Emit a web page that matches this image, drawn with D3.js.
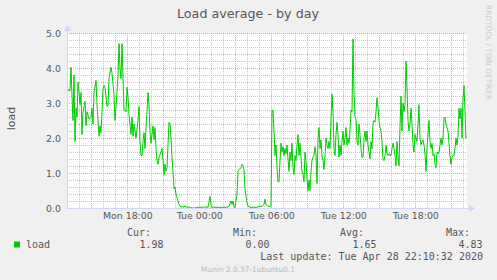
<!DOCTYPE html>
<html>
<head>
<meta charset="utf-8">
<script src="https://cdn.jsdelivr.net/npm/d3@7/dist/d3.min.js"></script>
<style>
  html, body { margin: 0; padding: 0; background: #f0f0f0; }
  svg { display: block; }
  .tick text { font-family: "DejaVu Sans", sans-serif; fill: #555; }
  .mono { font-family: "DejaVu Sans Mono", monospace; font-size: 10px; fill: #555; }
</style>
</head>
<body>
<div id="chart"></div>
<script>
// 5 minute slots since the left edge of the graph, and the load
var samples = [
  [0,3.35],[1,3.4],[2,3.35],[3,3.35],[4,4.02],[5,3.2],[6,2.5],[7,3.8],[8,1.9],[9,2.85],
  [10,2.6],[11,3.6],[12,3.3],[13,2.95],[14,3.3],[15,2.1],[16,2.75],[18,3.05],[19,2.35],[20,2.75],
  [22,2.55],[23,2.55],[24,2.6],[25,2.85],[26,2.4],[27,3.35],[28,3.45],[29,3.65],[30,2.95],[32,2.05],
  [33,2.35],[34,2.15],[35,2.75],[36,3.4],[37,3.5],[38,3.45],[40,2.9],[41,2.95],[42,3.7],[44,4.02],
  [45,3.85],[46,3.55],[47,3.25],[48,2.5],[50,3.3],[51,3.8],[52,4.7],[53,4.0],[54,3.7],[55,4.7],
  [56,3.7],[57,2.8],[59,2.75],[60,3.45],[61,3.2],[62,2.65],[63,2.4],[64,2.1],[65,2.6],[66,2.05],
  [67,2.4],[68,2.2],[69,2.0],[71,2.5],[72,2.9],[73,1.9],[74,1.5],[75,1.5],[76,1.9],[77,2.15],
  [78,1.7],[79,2.3],[80,2.75],[81,3.3],[82,2.95],[83,2.2],[84,1.85],[85,2.1],[86,2.35],[87,1.95],
  [88,2.3],[89,1.7],[90,1.35],[91,1.25],[92,1.45],[94,1.6],[95,1.7],[96,1.35],[97,0.95],[98,1.25],
  [99,1.05],[100,1.15],[101,1.8],[102,2.45],[103,2.4],[104,2.0],[105,1.45],[106,1.05],[107,0.55],[108,0.6],
  [109,0.4],[110,0.3],[111,0.2],[112,0.1],[114,0.02],[115,0.05],[116,0.02],[118,0.05],[120,0.02],[122,0.03],
  [125,0.0],[128,0.0],[131,0.02],[135,0.02],[138,0.03],[141,0.02],[143,0.33],[144,0.1],[145,0.02],[150,0.02],
  [155,0.02],[160,0.02],[162,0.05],[164,0.2],[165,0.1],[166,0.2],[167,0.02],[168,0.02],[170,0.4],[171,1.05],
  [172,1.1],[174,1.15],[175,1.25],[176,1.2],[177,1.1],[178,0.55],[180,0.15],[181,0.05],[183,0.02],[186,0.02],
  [190,0.02],[192,0.05],[195,0.05],[197,0.1],[198,0.25],[199,0.1],[201,0.05],[203,0.05],[204,0.05],[205,2.75],
  [206,2.8],[207,2.2],[208,1.5],[209,1.8],[210,1.15],[211,0.75],[212,0.75],[213,1.35],[214,1.85],[215,1.6],
  [216,1.75],[217,1.5],[218,1.7],[219,1.55],[220,1.8],[221,1.4],[222,1.05],[223,1.6],[224,1.35],[225,1.85],
  [226,1.15],[227,0.95],[228,1.5],[229,1.35],[230,1.8],[231,2.1],[232,1.5],[233,1.85],[234,1.45],[235,1.05],
  [236,0.95],[237,0.75],[238,1.6],[239,1.35],[240,0.85],[241,0.5],[242,0.8],[243,0.5],[244,1.05],[245,1.35],
  [246,1.45],[247,1.5],[248,1.75],[249,1.55],[250,0.7],[251,2.0],[252,2.3],[253,1.7],[254,1.95],[255,1.45],
  [256,1.35],[257,1.1],[258,1.5],[259,2.0],[260,1.8],[261,1.7],[262,1.9],[263,1.7],[264,2.55],[265,3.25],
  [266,2.75],[267,1.7],[268,1.5],[269,2.1],[270,2.45],[271,2.1],[272,1.45],[273,1.8],[274,1.5],[275,1.9],
  [276,2.2],[277,1.8],[278,2.0],[279,2.3],[280,1.8],[281,2.0],[282,1.85],[283,2.2],[284,2.8],[285,2.75],
  [286,4.83],[287,3.25],[288,2.6],[289,2.55],[290,1.9],[291,1.8],[292,2.4],[293,2.1],[294,1.7],[295,1.45],
  [296,1.45],[297,2.0],[298,2.2],[299,1.9],[300,2.2],[301,1.8],[302,1.6],[303,1.4],[304,1.9],[305,1.7],
  [306,2.4],[307,2.5],[308,2.45],[309,2.75],[310,3.15],[311,2.85],[312,2.5],[313,2.3],[314,2.2],[315,1.9],
  [316,1.4],[317,1.35],[318,1.5],[319,1.8],[320,1.55],[321,1.5],[322,1.55],[323,1.5],[324,1.5],[325,1.7],
  [326,1.85],[327,1.7],[328,1.5],[329,1.2],[330,1.9],[331,1.5],[332,1.2],[333,2.3],[334,3.2],[335,2.2],
  [336,3.0],[337,2.75],[338,2.95],[339,4.2],[340,3.45],[341,2.5],[342,2.2],[343,2.4],[344,2.85],[345,2.4],
  [346,1.8],[347,1.6],[348,2.1],[349,2.0],[350,1.9],[351,2.4],[352,2.95],[353,2.0],[354,1.8],[355,1.9],
  [356,1.95],[357,1.8],[358,1.55],[359,1.05],[360,1.7],[361,2.1],[362,2.5],[363,1.9],[364,1.7],[365,1.85],
  [366,1.5],[367,1.55],[368,1.25],[369,1.15],[370,1.6],[371,1.55],[372,1.6],[373,1.8],[374,2.0],[375,1.8],
  [376,2.0],[377,2.55],[378,2.6],[379,2.4],[380,2.3],[381,2.2],[382,1.85],[383,1.5],[384,1.25],[385,1.45],
  [386,1.5],[387,1.5],[388,1.7],[389,2.0],[390,1.8],[391,2.05],[392,2.85],[393,2.55],[394,2.85],[395,2.0],
  [396,3.15],[397,3.5],[398,2.75],[399,1.98]
];

var yTicks = [0, 1, 2, 3, 4, 5];
var legendHeads = ["Cur:", "Min:", "Avg:", "Max:"];
var legendValues = ["1.98", "0.00", "1.65", "4.83"];

var title = "Load average - by day";
var lastUpdate = "Last update: Tue Apr 28 22:10:32 2020";
var footer = "Munin 2.0.37-1ubuntu0.1";
var sideText = "RRDTOOL / TOBI OETIKER";

var W = 497, H = 280;
var pL = 67, pR = 467, pT = 33, pB = 208;

// the graph covers 400 slots of 5 minutes
var t0 = new Date(2020, 3, 27, 12, 58, 30);
var t1 = new Date(t0.getTime() + 400 * 300000);
var slotTime = function(s) { return new Date(t0.getTime() + s * 300000); };

var x = d3.scaleTime().domain([t0, t1]).range([pL, pR]);
var y = d3.scaleLinear().domain([0, 5]).range([pB, pT]);

var svg = d3.select("#chart").append("svg")
  .attr("width", W)
  .attr("height", H);

svg.append("rect").attr("width", W).attr("height", H).attr("fill", "#f0f0f0");
svg.append("rect")
  .attr("x", pL).attr("y", pT)
  .attr("width", pR - pL).attr("height", pB - pT)
  .attr("fill", "#fff");

// minor grid
var minorY = d3.range(0, 5.01, 0.2).filter(function(v) { return Math.abs(v - Math.round(v)) > 0.01; });
var gridG = svg.append("g").attr("shape-rendering", "crispEdges");

gridG.selectAll(".hminor").data(minorY).enter().append("line")
  .attr("x1", pL).attr("x2", pR)
  .attr("y1", function(d) { return Math.round(y(d)) + 0.5; })
  .attr("y2", function(d) { return Math.round(y(d)) + 0.5; })
  .attr("stroke", "#c8c8c8").attr("stroke-dasharray", "1,1");

var hours = d3.timeHour.range(t0, t1);
gridG.selectAll(".vminor").data(hours.filter(function(d) { return d.getHours() % 3 != 0; })).enter().append("line")
  .attr("x1", function(d) { return Math.round(x(d)) + 0.5; })
  .attr("x2", function(d) { return Math.round(x(d)) + 0.5; })
  .attr("y1", pT).attr("y2", pB)
  .attr("stroke", "#c8c8c8").attr("stroke-dasharray", "1,1");

// major grid
gridG.selectAll(".hmajor").data(yTicks.slice(1)).enter().append("line")
  .attr("x1", pL).attr("x2", pR)
  .attr("y1", function(d) { return Math.round(y(d)) + 0.5; })
  .attr("y2", function(d) { return Math.round(y(d)) + 0.5; })
  .attr("stroke", "#eea0a0").attr("stroke-dasharray", "1,1");

gridG.selectAll(".vmajor").data(hours.filter(function(d) { return d.getHours() % 3 == 0; })).enter().append("line")
  .attr("x1", function(d) { return Math.round(x(d)) + 0.5; })
  .attr("x2", function(d) { return Math.round(x(d)) + 0.5; })
  .attr("y1", pT).attr("y2", pB)
  .attr("stroke", "#eea0a0").attr("stroke-dasharray", "1,1");

// tick labels
var yAxis = svg.append("g")
  .attr("transform", "translate(" + pL + ",0)")
  .call(d3.axisLeft(y).tickValues(yTicks).tickFormat(d3.format(".1f")).tickSize(0).tickPadding(6));
yAxis.select(".domain").remove();
yAxis.selectAll("text").style("font-size", "9.4px");

var xAxis = svg.append("g")
  .attr("transform", "translate(0," + pB + ")")
  .call(d3.axisBottom(x).ticks(d3.timeHour.every(6)).tickFormat(d3.timeFormat("%a %H:%M")).tickSize(0).tickPadding(4));
xAxis.select(".domain").remove();
xAxis.selectAll("text").style("font-size", "9.4px");

// the load line
var line = d3.line()
  .x(function(d) { return x(slotTime(d[0])); })
  .y(function(d) { return y(d[1]); });

svg.append("path")
  .datum(samples)
  .attr("d", line)
  .attr("fill", "none")
  .attr("stroke", "#00cc00")
  .attr("stroke-width", 1);

// axes with arrows
var axisColor = "#cfd6f8";
svg.append("line")
  .attr("x1", pL - 0.5).attr("x2", pR + 4)
  .attr("y1", pB + 0.5).attr("y2", pB + 0.5)
  .attr("stroke", axisColor);
svg.append("line")
  .attr("x1", pL + 0.5).attr("x2", pL + 0.5)
  .attr("y1", pB + 1).attr("y2", pT - 4)
  .attr("stroke", axisColor);
svg.append("path")
  .attr("d", "M" + (pR + 2) + "," + (pB - 3) + "L" + (pR + 8) + "," + (pB + 0.5) + "L" + (pR + 2) + "," + (pB + 4) + "Z")
  .attr("fill", axisColor);
svg.append("path")
  .attr("d", "M" + (pL - 3) + "," + (pT - 2) + "L" + (pL + 0.5) + "," + (pT - 8) + "L" + (pL + 4) + "," + (pT - 2) + "Z")
  .attr("fill", axisColor);

// titles
svg.append("text")
  .attr("x", 248).attr("y", 17.5)
  .attr("text-anchor", "middle")
  .style("font-family", "DejaVu Sans, sans-serif")
  .style("font-size", "12.7px")
  .style("fill", "#555")
  .text(title);

svg.append("text")
  .attr("transform", "translate(15," + ((pT + pB) / 2 - 2) + ") rotate(-90)")
  .attr("text-anchor", "middle")
  .style("font-family", "DejaVu Sans, sans-serif")
  .style("font-size", "11px")
  .style("fill", "#555")
  .text("load");

svg.append("text")
  .attr("transform", "translate(486,5) rotate(90)")
  .style("font-family", "DejaVu Sans, sans-serif")
  .style("font-size", "7.4px")
  .style("fill", "#c8c8c8")
  .text(sideText);

// legend
svg.append("rect")
  .attr("x", 14).attr("y", 241.5)
  .attr("width", 6).attr("height", 6)
  .attr("fill", "#00cc00");

svg.append("text").attr("class", "mono")
  .attr("x", 26).attr("y", 248)
  .text("load");

var colEnds = [151, 257, 364, 470];
svg.selectAll(".head").data(legendHeads).enter().append("text")
  .attr("class", "mono")
  .attr("text-anchor", "end")
  .attr("x", function(d, i) { return colEnds[i]; })
  .attr("y", 236)
  .text(function(d) { return d; });

svg.selectAll(".val").data(legendValues).enter().append("text")
  .attr("class", "mono")
  .attr("text-anchor", "end")
  .attr("x", function(d, i) { return colEnds[i] + 12.5; })
  .attr("y", 248)
  .text(function(d) { return d; });

svg.append("text").attr("class", "mono")
  .attr("text-anchor", "end")
  .attr("x", 483).attr("y", 260)
  .text(lastUpdate);

svg.append("text")
  .attr("x", 248).attr("y", 272)
  .attr("text-anchor", "middle")
  .style("font-family", "DejaVu Sans, sans-serif")
  .style("font-size", "7.4px")
  .style("fill", "#bbb")
  .text(footer);
</script>
</body>
</html>
